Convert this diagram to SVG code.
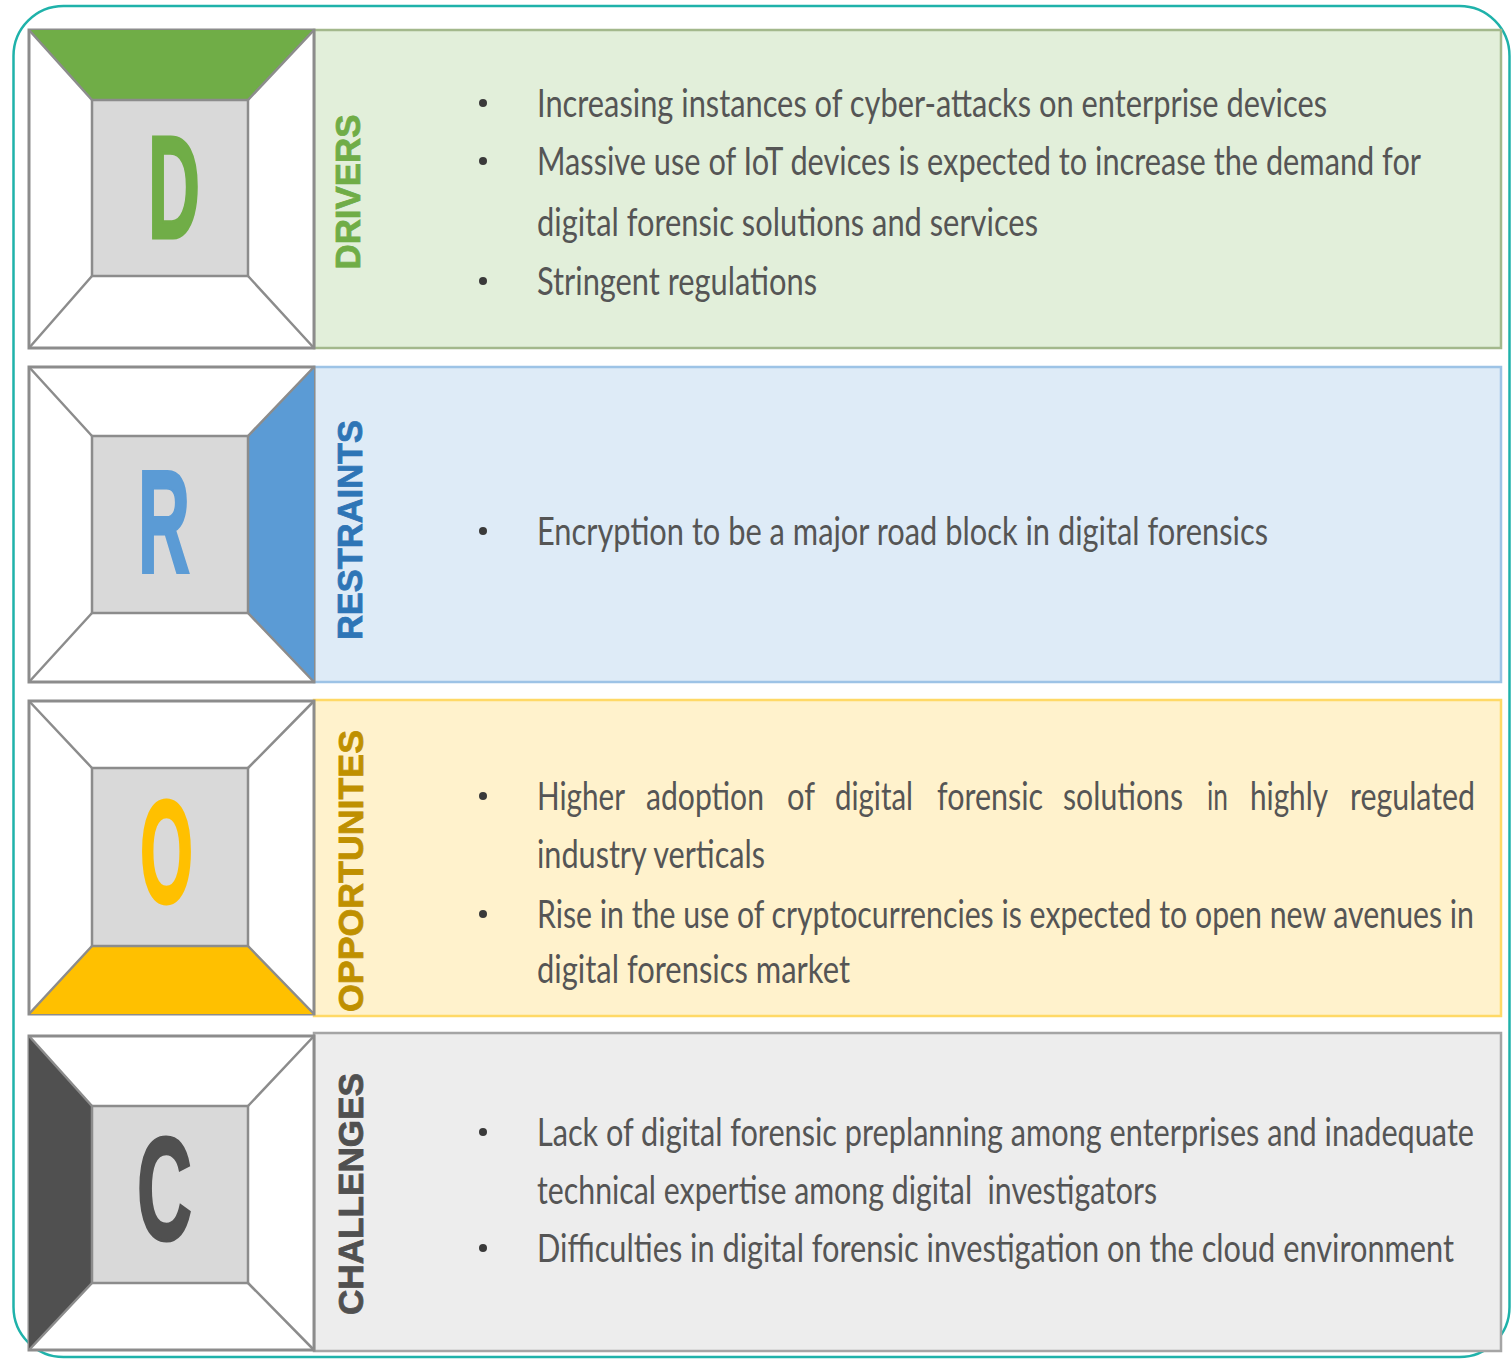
<svg xmlns="http://www.w3.org/2000/svg" width="1511" height="1359" viewBox="0 0 1511 1359">
<style>
.frame{fill:#ffffff;stroke:#8c8c8c;stroke-width:3}
.inner{fill:#d9d9d9;stroke:#8c8c8c;stroke-width:2.5}
.diag{stroke:#8c8c8c;stroke-width:2.5;fill:none}
.big{font-family:"Liberation Sans",Arial,sans-serif;font-weight:bold;font-size:147px;stroke-width:3}
.vlab{font-family:"Liberation Sans",Arial,sans-serif;font-weight:bold;font-size:35px;stroke-width:0.8}
.txt{font-family:Lato,"Open Sans",sans-serif;font-size:38px;fill:#555555}
.bul{fill:#3a3a3a}
</style>
<rect x="0" y="0" width="1511" height="1359" fill="#ffffff"/>
<rect id="outer-border" x="13.5" y="6" width="1496" height="1351" rx="50" ry="50" fill="none" stroke="#1fb2aa" stroke-width="2.5"/>

<g id="drivers">
  <rect x="314" y="30" width="1187" height="318" fill="#e2efda" stroke="#a3b88c" stroke-width="2.5"/>
  <rect class="frame" x="29" y="30" width="285" height="318"/>
  <polygon points="29,30 314,30 248,100 92,100" fill="#70ad47"/>
  <path class="diag" d="M29,30 L92,100 M314,30 L248,100 M29,348 L92,276 M314,348 L248,276"/>
  <rect class="inner" x="92" y="100" width="156" height="176"/>
  <text class="big" x="148" y="238" textLength="52" lengthAdjust="spacingAndGlyphs" fill="#70ad47" stroke="#70ad47">D</text>
  <text class="vlab" transform="translate(360,192) rotate(-90)" text-anchor="middle" textLength="155" lengthAdjust="spacingAndGlyphs" fill="#70ad47" stroke="#70ad47">DRIVERS</text>
  <circle class="bul" cx="483" cy="103" r="4"/>
  <circle class="bul" cx="483" cy="161" r="4"/>
  <circle class="bul" cx="483" cy="281" r="4"/>
  <text class="txt" x="537" y="117" textLength="790" lengthAdjust="spacingAndGlyphs">Increasing instances of cyber-attacks on enterprise devices</text>
  <text class="txt" x="537" y="175" textLength="884" lengthAdjust="spacingAndGlyphs">Massive use of IoT devices is expected to increase the demand for</text>
  <text class="txt" x="537" y="236" textLength="501" lengthAdjust="spacingAndGlyphs">digital forensic solutions and services</text>
  <text class="txt" x="537" y="295" textLength="280" lengthAdjust="spacingAndGlyphs">Stringent regulations</text>
</g>

<g id="restraints">
  <rect x="314" y="367" width="1187" height="315" fill="#deebf7" stroke="#9dc3e6" stroke-width="2.5"/>
  <rect class="frame" x="29" y="367" width="285" height="315"/>
  <polygon points="314,367 314,682 248,613 248,436" fill="#5b9bd5"/>
  <path class="diag" d="M29,367 L92,436 M314,367 L248,436 M29,682 L92,613 M314,682 L248,613"/>
  <rect class="inner" x="92" y="436" width="156" height="177"/>
  <text class="big" x="138" y="572" textLength="52" lengthAdjust="spacingAndGlyphs" fill="#5b9bd5" stroke="#5b9bd5">R</text>
  <text class="vlab" transform="translate(362,530) rotate(-90)" text-anchor="middle" textLength="220" lengthAdjust="spacingAndGlyphs" fill="#2e75b6" stroke="#2e75b6">RESTRAINTS</text>
  <circle class="bul" cx="483" cy="531" r="4"/>
  <text class="txt" x="537" y="545" textLength="731" lengthAdjust="spacingAndGlyphs">Encryption to be a major road block in digital forensics</text>
</g>

<g id="opportunities">
  <rect x="314" y="700" width="1187" height="316" fill="#fff2cc" stroke="#ffd966" stroke-width="2.5"/>
  <rect class="frame" x="29" y="701" width="285" height="313"/>
  <polygon points="92,946 248,946 314,1014 29,1014" fill="#ffc000"/>
  <path class="diag" d="M29,701 L92,768 M314,701 L248,768 M29,1014 L92,946 M314,1014 L248,946"/>
  <rect class="inner" x="92" y="768" width="156" height="178"/>
  <text class="big" x="140" y="903" textLength="53" lengthAdjust="spacingAndGlyphs" fill="#ffc000" stroke="#ffc000">O</text>
  <text class="vlab" transform="translate(363,871) rotate(-90)" text-anchor="middle" textLength="282" lengthAdjust="spacingAndGlyphs" fill="#bf9000" stroke="#bf9000">OPPORTUNITES</text>
  <circle class="bul" cx="483" cy="796" r="4"/>
  <circle class="bul" cx="483" cy="914" r="4"/>
  <text class="txt" y="810"><tspan x="537" textLength="88" lengthAdjust="spacingAndGlyphs">Higher</tspan><tspan x="646" textLength="118" lengthAdjust="spacingAndGlyphs">adoption</tspan><tspan x="787" textLength="28" lengthAdjust="spacingAndGlyphs">of</tspan><tspan x="835" textLength="78" lengthAdjust="spacingAndGlyphs">digital</tspan><tspan x="937" textLength="106" lengthAdjust="spacingAndGlyphs">forensic</tspan><tspan x="1063" textLength="120" lengthAdjust="spacingAndGlyphs">solutions</tspan><tspan x="1207" textLength="21" lengthAdjust="spacingAndGlyphs">in</tspan><tspan x="1250" textLength="78" lengthAdjust="spacingAndGlyphs">highly</tspan><tspan x="1350" textLength="125" lengthAdjust="spacingAndGlyphs">regulated</tspan></text>
  <text class="txt" x="537" y="868" textLength="228" lengthAdjust="spacingAndGlyphs">industry verticals</text>
  <text class="txt" x="537" y="928" textLength="937" lengthAdjust="spacingAndGlyphs">Rise in the use of cryptocurrencies is expected to open new avenues in</text>
  <text class="txt" x="537" y="983" textLength="313" lengthAdjust="spacingAndGlyphs">digital forensics market</text>
</g>

<g id="challenges">
  <rect x="314" y="1033" width="1187" height="318" fill="#ededed" stroke="#a5a5a5" stroke-width="2.5"/>
  <rect class="frame" x="29" y="1036" width="285" height="314"/>
  <polygon points="29,1036 92,1106 92,1283 29,1350" fill="#505050"/>
  <path class="diag" d="M29,1036 L92,1106 M314,1036 L248,1106 M29,1350 L92,1283 M314,1350 L248,1283"/>
  <rect class="inner" x="92" y="1106" width="156" height="177"/>
  <text class="big" x="137" y="1240" textLength="55" lengthAdjust="spacingAndGlyphs" fill="#505050" stroke="#505050">C</text>
  <text class="vlab" transform="translate(363,1194) rotate(-90)" text-anchor="middle" textLength="242" lengthAdjust="spacingAndGlyphs" fill="#505050" stroke="#505050">CHALLENGES</text>
  <circle class="bul" cx="483" cy="1132" r="4"/>
  <circle class="bul" cx="483" cy="1248" r="4"/>
  <text class="txt" x="537" y="1146" textLength="937" lengthAdjust="spacingAndGlyphs">Lack of digital forensic preplanning among  enterprises and inadequate</text>
  <text class="txt" x="537" y="1204" textLength="620" lengthAdjust="spacingAndGlyphs" xml:space="preserve">technical expertise among digital  investigators</text>
  <text class="txt" x="537" y="1262" textLength="917" lengthAdjust="spacingAndGlyphs">Difficulties in digital forensic investigation on the cloud environment</text>
</g>
</svg>
